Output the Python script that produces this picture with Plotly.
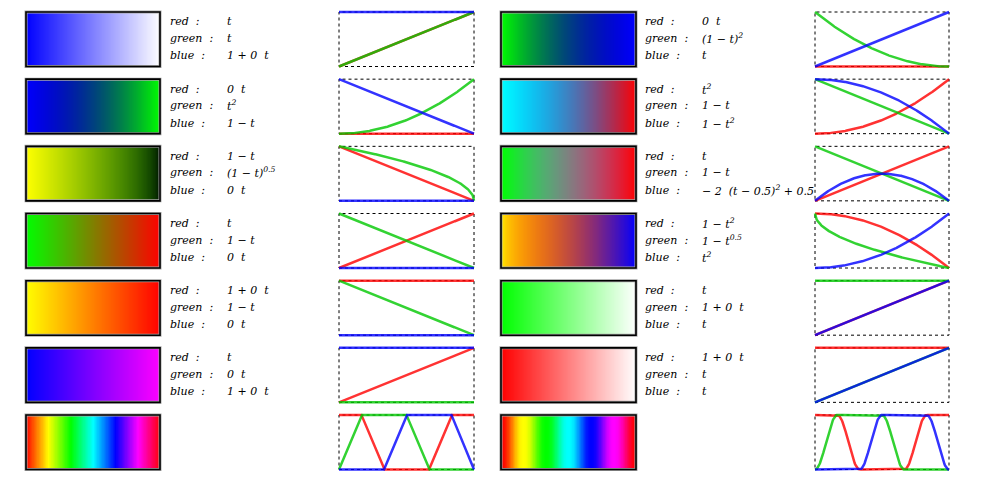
import numpy as np
import plotly.graph_objects as go

W, H = 981, 495
OFF = 8  # page body margin compensation

# parameter samples along each colour map
t = np.linspace(0, 1, 241)


def hsv_r(x):
    return np.clip(np.maximum(2 - 6 * x, 6 * x - 4), 0, 1)


def hsv_g(x):
    return np.clip(np.minimum(6 * x, 4 - 6 * x), 0, 1)


def hsv_b(x):
    return np.clip(np.minimum(6 * x - 2, 6 - 6 * x), 0, 1)


def smooth(v):
    return (1 - np.cos(np.pi * v)) / 2


# ---- left column colour maps: (red, green, blue) functions ----
left_red = [lambda x: x, lambda x: 0 * x, lambda x: 1 - x, lambda x: x,
            lambda x: 1 + 0 * x, lambda x: x, hsv_r]
left_green = [lambda x: x, lambda x: x ** 2, lambda x: (1 - x) ** 0.5, lambda x: 1 - x,
              lambda x: 1 - x, lambda x: 0 * x, hsv_g]
left_blue = [lambda x: 1 + 0 * x, lambda x: 1 - x, lambda x: 0 * x, lambda x: 0 * x,
             lambda x: 0 * x, lambda x: 1 + 0 * x, hsv_b]
left_text = [
    ("t", "t", "1 + 0  t"),
    ("0  t", "t<sup>2</sup>", "1 − t"),
    ("1 − t", "(1 − t)<sup>0.5</sup>", "0  t"),
    ("t", "1 − t", "0  t"),
    ("1 + 0  t", "1 − t", "0  t"),
    ("t", "0  t", "1 + 0  t"),
    None,
]

# ---- right column colour maps ----
right_red = [lambda x: 0 * x, lambda x: x ** 2, lambda x: x, lambda x: 1 - x ** 2,
             lambda x: x, lambda x: 1 + 0 * x, lambda x: smooth(hsv_r(x))]
right_green = [lambda x: (1 - x) ** 2, lambda x: 1 - x, lambda x: 1 - x, lambda x: 1 - x ** 0.5,
               lambda x: 1 + 0 * x, lambda x: x, lambda x: smooth(hsv_g(x))]
right_blue = [lambda x: x, lambda x: 1 - x ** 2, lambda x: -2 * (x - 0.5) ** 2 + 0.5, lambda x: x ** 2,
              lambda x: x, lambda x: x, lambda x: smooth(hsv_b(x))]
right_text = [
    ("0  t", "(1 − t)<sup>2</sup>", "t"),
    ("t<sup>2</sup>", "1 − t", "1 − t<sup>2</sup>"),
    ("t", "1 − t", "− 2  (t − 0.5)<sup>2</sup> + 0.5"),
    ("1 − t<sup>2</sup>", "1 − t<sup>0.5</sup>", "t<sup>2</sup>"),
    ("t", "1 + 0  t", "t"),
    ("1 + 0  t", "t", "t"),
    None,
]

channel_labels = ["red  :", "green  :", "blue  :"]
line_colors = ["rgb(255,0,0)", "rgb(0,200,0)", "rgb(0,0,255)"]

# ---- layout geometry (pixels, as seen in the page) ----
ROW_TOP0, ROW_PITCH, BOX_H = 12, 67.17, 54.5
columns = [
    dict(bar=(26, 160), text=(168, 225), plot=(339, 474),
         r=left_red, g=left_green, b=left_blue, txt=left_text),
    dict(bar=(501, 636), text=(643, 700), plot=(815, 949),
         r=right_red, g=right_green, b=right_blue, txt=right_text),
]


def px(x):
    return (x - OFF) / W


def py(y):
    return 1 - (y - OFF) / H


fig = go.Figure()
layout = {}
shapes = []
annotations = []
k = 0
PAD = 3

for col in columns:
    for i in range(7):
        top = ROW_TOP0 + i * ROW_PITCH
        bot = top + BOX_H
        R = np.clip(col["r"][i](t), 0, 1)
        G = np.clip(col["g"][i](t), 0, 1)
        B = np.clip(col["b"][i](t), 0, 1)

        # colour bar heatmap
        k += 1
        xa, ya = ("x", "y") if k == 1 else (f"x{k}", f"y{k}")
        cs = [[float(v), f"rgb({int(round(r*255))},{int(round(g*255))},{int(round(b*255))})"]
              for v, r, g, b in zip(t, R, G, B)]
        fig.add_trace(go.Heatmap(z=[t], x=t, y=[0], colorscale=cs, zmin=0, zmax=1,
                                 showscale=False, hoverinfo="skip", xaxis=xa, yaxis=ya))
        x0, x1 = col["bar"]
        layout["xaxis" if k == 1 else f"xaxis{k}"] = dict(
            domain=[px(x0), px(x1)], range=[0, 1], visible=False, anchor=ya, fixedrange=True)
        layout["yaxis" if k == 1 else f"yaxis{k}"] = dict(
            domain=[py(bot), py(top)], range=[-0.5, 0.5], visible=False, anchor=xa, fixedrange=True)
        shapes.append(dict(type="rect", xref="paper", yref="paper",
                           x0=px(x0), x1=px(x1), y0=py(bot), y1=py(top),
                           line=dict(color="rgb(165,165,165)", width=3)))
        shapes.append(dict(type="rect", xref="paper", yref="paper",
                           x0=px(x0), x1=px(x1), y0=py(bot), y1=py(top),
                           line=dict(color="black", width=1.6)))

        # line plot of the three channels
        k += 1
        xa, ya = f"x{k}", f"y{k}"
        for vals, c in zip((R, G, B), line_colors):
            fig.add_trace(go.Scatter(x=t, y=vals, mode="lines", xaxis=xa, yaxis=ya,
                                     line=dict(color=c, width=2.5), opacity=0.8,
                                     hoverinfo="skip", showlegend=False))
        p0, p1 = col["plot"]
        wpx, hpx = p1 - p0, BOX_H
        layout[f"xaxis{k}"] = dict(domain=[px(p0 - PAD), px(p1 + PAD)],
                                   range=[-PAD / wpx, 1 + PAD / wpx],
                                   visible=False, anchor=ya, fixedrange=True)
        layout[f"yaxis{k}"] = dict(domain=[py(bot + PAD), py(top - PAD)],
                                   range=[-PAD / hpx, 1 + PAD / hpx],
                                   visible=False, anchor=xa, fixedrange=True)
        shapes.append(dict(type="rect", xref=xa, yref=ya, x0=0, x1=1, y0=0, y1=1,
                           layer="between", line=dict(color="black", width=1, dash="dot")))

        # formula text
        txt = col["txt"][i]
        if txt:
            lx, vx = col["text"]
            for j, (lab, val) in enumerate(zip(channel_labels, txt)):
                yy = top + [10, 26.5, 44][j]
                for xx, s in ((lx, lab), (vx, val)):
                    annotations.append(dict(
                        x=px(xx), y=py(yy), xref="paper", yref="paper", text=s,
                        showarrow=False, xanchor="left", yanchor="middle",
                        font=dict(family="DejaVu Serif", size=11, color="black", style="italic")))

fig.update_layout(**layout)
fig.update_layout(width=W, height=H, margin=dict(l=0, r=0, t=0, b=0),
                  paper_bgcolor="white", plot_bgcolor="rgba(0,0,0,0)",
                  showlegend=False, shapes=shapes, annotations=annotations)
fig.write_html("out.html")
